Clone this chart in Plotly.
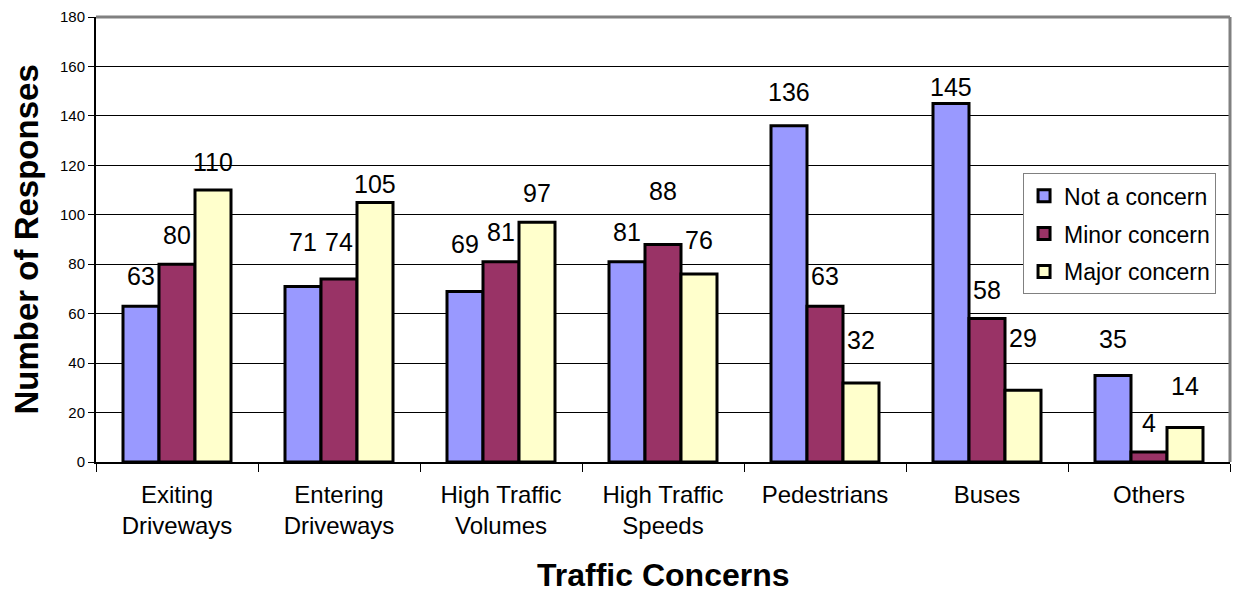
import plotly.graph_objects as go

categories = ["Exiting<br>Driveways", "Entering<br>Driveways", "High Traffic<br>Volumes",
              "High Traffic<br>Speeds", "Pedestrians", "Buses", "Others"]
series_names = ["Not a concern", "Minor concern", "Major concern"]
not_a_concern = [63, 71, 69, 81, 136, 145, 35]
minor_concern = [80, 74, 81, 88, 63, 58, 4]
major_concern = [110, 105, 97, 76, 32, 29, 14]
y_ticks = [0, 20, 40, 60, 80, 100, 120, 140, 160, 180]

# style: colours and vertical offsets (px) of the value labels above each bar
colors = ["#9999FF", "#993366", "#FFFFCC"]
label_shift = [
    [30, 44, 47, 30, 34, 17, 36],
    [29, 37, 30, 53, 30, 29, 29],
    [28, 18, 29, 34, 43, 52, 41],
]

FONT = "Liberation Sans, Arial, sans-serif"
series = [not_a_concern, minor_concern, major_concern]

fig = go.Figure()
for name, vals, col in zip(series_names, series, colors):
    fig.add_trace(go.Bar(
        x=categories, y=vals, name=name, legendgroup=name,
        marker=dict(color=col, line=dict(color="black", width=3)),
    ))

bargap = 1 / 3
bw = (1 - bargap) / 3
annotations = []
for si, vals in enumerate(series):
    for ci, v in enumerate(vals):
        annotations.append(dict(
            x=ci + (si - 1) * bw, y=v, xref="x", yref="y",
            text=str(v), showarrow=False, yanchor="middle", xanchor="center",
            yshift=label_shift[si][ci],
            font=dict(family=FONT, size=25, color="black"),
        ))

annotations.append(dict(
    text="<b>Number of Responses</b>", textangle=-90, showarrow=False,
    xref="paper", yref="paper", x=0, y=0.5, xanchor="center", yanchor="middle",
    xshift=-70, font=dict(family=FONT, size=33, color="black"),
))
annotations.append(dict(
    text="<b>Traffic Concerns</b>", showarrow=False,
    xref="paper", yref="paper", x=0.5, y=0, xanchor="center", yanchor="middle",
    yshift=-113, font=dict(family=FONT, size=32, color="black"),
))

fig.update_layout(
    width=1239, height=595,
    margin=dict(l=96, r=9, t=17, b=133),
    paper_bgcolor="white", plot_bgcolor="white",
    barmode="group", bargap=bargap, bargroupgap=0,
    font=dict(family=FONT, color="black"),
    legend=dict(
        x=0.8175, y=0.649, xanchor="left", yanchor="top",
        bgcolor="white", bordercolor="#808080", borderwidth=1,
        font=dict(family=FONT, size=23, color="black"),
        traceorder="grouped", tracegroupgap=5,
    ),
    annotations=annotations,
    shapes=[
        dict(type="line", xref="paper", yref="paper", x0=0, x1=1, y0=1, y1=1,
             line=dict(color="#808080", width=3)),
        dict(type="line", xref="paper", yref="paper", x0=1, x1=1, y0=0, y1=1,
             line=dict(color="#808080", width=3)),
    ],
)
fig.update_yaxes(
    range=[0, 180], tickvals=y_ticks, showgrid=True, gridcolor="black", gridwidth=1,
    showline=True, linecolor="black", linewidth=2, ticks="outside", ticklen=6,
    tickcolor="black", tickwidth=1, tickfont=dict(family=FONT, size=15, color="black"),
    zeroline=False,
)
fig.update_xaxes(
    showline=True, linecolor="black", linewidth=2, ticks="outside", ticklen=8,
    tickson="boundaries", tickcolor="black", tickwidth=1, showgrid=False,
    tickfont=dict(family=FONT, size=24, color="black"), ticklabelstandoff=10,
)

fig.write_html("out.html")
